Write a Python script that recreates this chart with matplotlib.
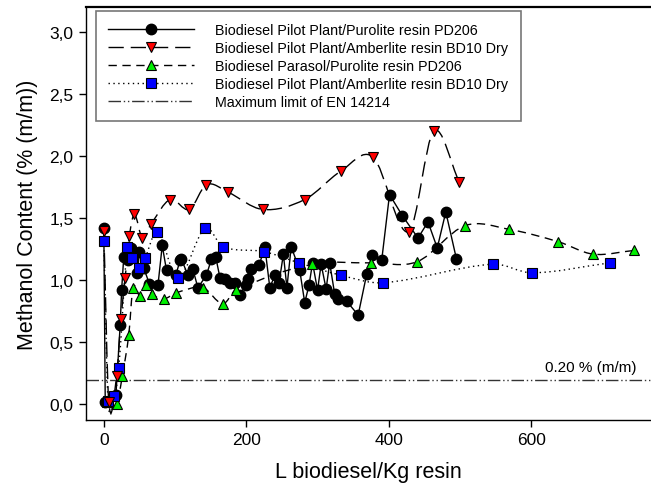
import numpy as np
import matplotlib
matplotlib.use("Agg")
import matplotlib.pyplot as plt
from matplotlib.path import Path
from matplotlib.patches import PathPatch
from matplotlib.lines import Line2D
from matplotlib.ticker import FuncFormatter

plt.rcParams['font.family'] = ['Liberation Sans', 'DejaVu Sans']

# ---------------- data ----------------
black_x = [0, 2, 17, 23, 25, 28, 34, 38, 47, 50, 56, 64, 76, 82, 88, 101, 107, 109,
           118, 125, 132, 144, 151, 157, 163, 170, 177, 184, 191, 199, 203, 207, 218,
           226, 233, 240, 246, 252, 257, 263, 275, 282, 288, 293, 300, 305, 312, 317,
           324, 329, 341, 357, 369, 377, 390, 401, 419, 441, 455, 468, 480, 495]
black_y = [1.42, 0.02, 0.08, 0.64, 0.92, 1.19, 1.16, 1.26, 1.06, 1.23, 1.10, 0.97, 0.96,
           1.28, 1.08, 1.04, 1.16, 1.17, 1.04, 1.09, 0.94, 1.04, 1.17, 1.19, 1.02, 1.01,
           0.98, 0.98, 0.88, 0.96, 1.01, 1.09, 1.12, 1.27, 0.94, 1.04, 0.98, 1.21, 0.94,
           1.27, 1.08, 0.82, 0.96, 1.14, 0.92, 1.13, 0.93, 1.14, 0.89, 0.85, 0.83, 0.72,
           1.05, 1.20, 1.16, 1.69, 1.52, 1.34, 1.47, 1.26, 1.55, 1.17]

red_x = [0, 7, 18, 24, 30, 36, 43, 54, 66, 93, 120, 144, 174, 223, 282, 333, 378, 428, 463, 499]
red_y = [1.40, 0.02, 0.23, 0.69, 1.02, 1.36, 1.53, 1.34, 1.45, 1.65, 1.57, 1.77, 1.71,
         1.57, 1.65, 1.88, 1.99, 1.39, 2.20, 1.79]

green_x = [5, 18, 26, 35, 41, 51, 59, 67, 84, 102, 139, 167, 185, 292, 375, 440, 507, 569, 638, 687, 744]
green_y = [0.02, 0.00, 0.23, 0.56, 0.94, 0.87, 0.96, 0.89, 0.85, 0.90, 0.94, 0.81, 0.92,
           1.13, 1.14, 1.15, 1.44, 1.41, 1.31, 1.21, 1.24]

blue_x = [0, 6, 15, 21, 33, 40, 50, 58, 75, 104, 142, 167, 225, 274, 333, 392, 546, 601, 710]
blue_y = [1.32, 0.03, 0.07, 0.29, 1.27, 1.18, 1.10, 1.18, 1.39, 1.02, 1.42, 1.27, 1.23,
          1.14, 1.04, 0.98, 1.13, 1.06, 1.14]

limit_value = 0.20

labels = ["Biodiesel Pilot Plant/Purolite resin PD206",
          "Biodiesel Pilot Plant/Amberlite resin BD10 Dry",
          "Biodiesel Parasol/Purolite resin PD206",
          "Biodiesel Pilot Plant/Amberlite resin BD10 Dry",
          "Maximum limit of EN 14214"]

x_ticks = [0, 200, 400, 600]
y_ticks = [0.0, 0.5, 1.0, 1.5, 2.0, 2.5, 3.0]


def smooth_path(xs, ys):
    """Hermite spline through the points expressed as cubic Bezier path."""
    xs = np.asarray(xs, float)
    ys = np.asarray(ys, float)
    n = len(xs)
    m = np.zeros(n)
    for i in range(n):
        if i == 0:
            m[i] = (ys[1] - ys[0]) / (xs[1] - xs[0])
        elif i == n - 1:
            m[i] = (ys[-1] - ys[-2]) / (xs[-1] - xs[-2])
        else:
            m[i] = (ys[i + 1] - ys[i - 1]) / (xs[i + 1] - xs[i - 1])
    verts = [(xs[0], ys[0])]
    codes = [Path.MOVETO]
    for i in range(n - 1):
        h = xs[i + 1] - xs[i]
        verts += [(xs[i] + h / 3, ys[i] + m[i] * h / 3),
                  (xs[i + 1] - h / 3, ys[i + 1] - m[i + 1] * h / 3),
                  (xs[i + 1], ys[i + 1])]
        codes += [Path.CURVE4] * 3
    return Path(verts, codes)


fig = plt.figure(figsize=(6.51, 4.85), dpi=100)
ax = fig.add_axes([86 / 651, 64 / 485, 1 - 86 / 651, (421 - 8) / 485])

red_ls = (0, (11, 5))
green_ls = (0, (6, 4))
blue_ls = (0, (1, 2.5))
lim_ls = (0, (9, 2, 1, 2, 1, 2))
lw = 1.0

# limit line
ax.axhline(limit_value, color='#333333', lw=lw, ls=lim_ls, zorder=1)
ax.text(748, 0.27, "0.20 % (m/m)", ha='right', va='baseline', fontsize=11)

# green
ax.add_patch(PathPatch(smooth_path(green_x, green_y), fill=False, ec='black', lw=lw,
                       ls=green_ls, zorder=2))
ax.plot(green_x, green_y, ls='none', marker='^', ms=7.5, mfc='#00ee00', mec='black',
        mew=0.8, zorder=6)
# black
ax.plot(black_x, black_y, color='black', lw=lw, zorder=3)
ax.plot(black_x, black_y, ls='none', marker='o', ms=7.5, mfc='black', mec='black', zorder=5)
# blue
ax.add_patch(PathPatch(smooth_path(blue_x, blue_y), fill=False, ec='black', lw=lw,
                       ls=blue_ls, zorder=2))
ax.plot(blue_x, blue_y, ls='none', marker='s', ms=7, mfc='#0000ff', mec='black',
        mew=0.8, zorder=7)
# red
ax.add_patch(PathPatch(smooth_path(red_x, red_y), fill=False, ec='black', lw=lw,
                       ls=red_ls, zorder=2))
ax.plot(red_x, red_y, ls='none', marker='v', ms=7.5, mfc='#ff0000', mec='black',
        mew=0.8, zorder=8)

ax.set_xlim(-25, 768)
ax.set_ylim(-0.125, 3.20)
ax.set_xticks(x_ticks)
ax.set_yticks(y_ticks)
ax.yaxis.set_major_formatter(FuncFormatter(lambda v, p: f"{v:.1f}".replace('.', ',')))
ax.tick_params(direction='out', length=5, width=1, labelsize=12.5, pad=4)
ax.spines['right'].set_visible(False)
for s in ['left', 'bottom', 'top']:
    ax.spines[s].set_linewidth(1.0)
ax.spines['top'].set_linewidth(1.6)
ax.set_xlabel("L biodiesel/Kg resin", fontsize=15.5, labelpad=10)
ax.set_ylabel("Methanol Content (% (m/m))", fontsize=15.5, labelpad=8)

handles = [
    Line2D([], [], color='black', lw=lw, marker='o', ms=7.5, mfc='black', mec='black'),
    Line2D([], [], color='black', lw=lw, ls=red_ls, marker='v', ms=7.5, mfc='#ff0000', mec='black', mew=0.8),
    Line2D([], [], color='black', lw=lw, ls=green_ls, marker='^', ms=7.5, mfc='#00ee00', mec='black', mew=0.8),
    Line2D([], [], color='black', lw=lw, ls=blue_ls, marker='s', ms=7, mfc='#0000ff', mec='black', mew=0.8),
    Line2D([], [], color='#333333', lw=lw, ls=lim_ls),
]
leg = ax.legend(handles, labels, loc='upper left',
                bbox_to_anchor=(10 / 565, (413 - 4) / 413),
                fontsize=10.3, handlelength=6.0, handletextpad=1.5, numpoints=1,
                frameon=True, fancybox=False, edgecolor='#555555', borderpad=0.85,
                labelspacing=0.28, borderaxespad=0.0)
leg.get_frame().set_linewidth(1.2)

fig.savefig("out.png", dpi=100)
